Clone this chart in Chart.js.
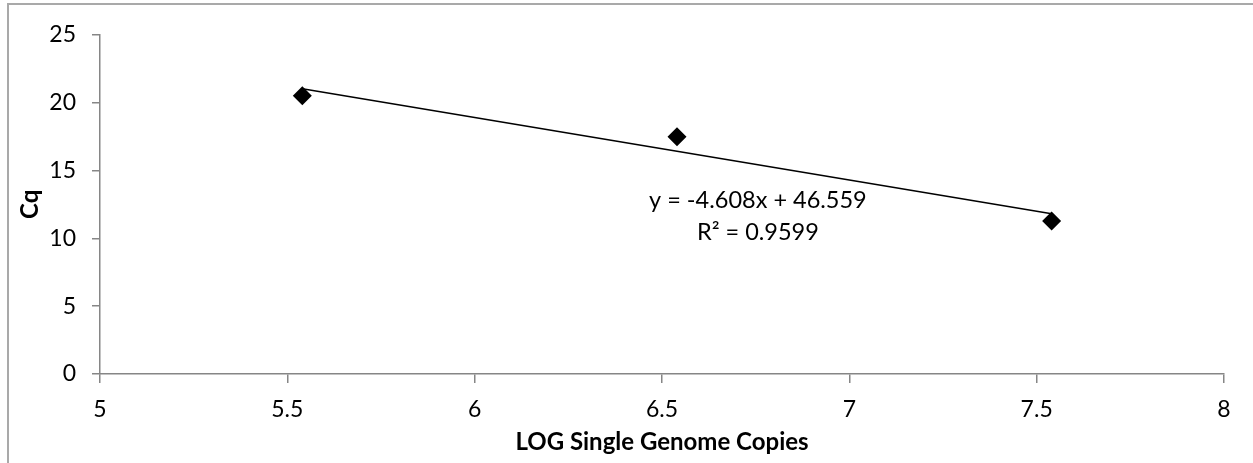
<!DOCTYPE html>
<html>
<head>
<meta charset="utf-8">
<script src="https://cdn.jsdelivr.net/npm/chart.js@4.4.1/dist/chart.umd.min.js"></script>
<style>
  html, body { margin: 0; padding: 0; background: #fff; overflow: hidden; }
  #marco {
    position: absolute; left: 7px; top: 3px;
    width: 1246px; height: 460px;
    border-left: 2px solid #a9a9a9; border-top: 2px solid #a9a9a9;
  }
  #grafico { display: block; }
</style>
</head>
<body>
<div id="marco"><canvas id="grafico" width="1244" height="458"></canvas></div>
<script>
// Curva estándar: LOG copias vs Cq
const logCopias = [5.54, 6.54, 7.54];
const valoresCq = [20.5, 17.49, 11.28];

// Ajuste lineal mostrado en la etiqueta
const pendiente = -4.608;
const intercepto = 46.559;
const r2 = 0.9599;
const etiquetaEcuacion = ['y = -4.608x + 46.559', 'R\u00B2 = 0.9599'];

const ticksX = [5, 5.5, 6, 6.5, 7, 7.5, 8];
const ticksY = [0, 5, 10, 15, 20, 25];

const fuente = 'Lato, "Open Sans", sans-serif';
const grisEje = '#868686';

const puntos = logCopias.map((x, i) => ({ x: x, y: valoresCq[i] }));
const xMin = Math.min(...logCopias), xMax = Math.max(...logCopias);
const tendencia = [xMin, xMax].map(x => ({ x: x, y: pendiente * x + intercepto }));

// texto de la ecuación, anclado en coordenadas de datos
const ecuacionPlugin = {
    id: 'ecuacion',
    afterDatasetsDraw(chart) {
        const { ctx, scales } = chart;
        const cx = scales.x.getPixelForValue(6.756);
        const cy = scales.y.getPixelForValue(12.8);
        ctx.save();
        ctx.fillStyle = '#000';
        ctx.font = '23.5px ' + fuente;
        ctx.textAlign = 'center';
        ctx.textBaseline = 'middle';
        ctx.fillText(etiquetaEcuacion[0], cx, cy);
        ctx.fillText(etiquetaEcuacion[1], cx, cy + 32);
        ctx.restore();
    }
};

new Chart(document.getElementById('grafico'), {
    type: 'scatter',
    data: {
        datasets: [
            {
                label: 'Cq',
                data: puntos,
                pointStyle: 'rectRot',
                pointRadius: 9.5,
                pointHoverRadius: 9.5,
                backgroundColor: '#000',
                borderColor: '#000',
                borderWidth: 0,
                order: 1
            },
            {
                label: 'Lineal',
                type: 'line',
                data: tendencia,
                borderColor: '#000',
                borderWidth: 1.5,
                pointRadius: 0,
                fill: false,
                order: 2
            }
        ]
    },
    options: {
        responsive: false,
        animation: false,
        events: [],
        layout: { padding: { left: 0, top: 25, right: 29, bottom: 0 } },
        plugins: { legend: { display: false }, tooltip: { enabled: false } },
        scales: {
            x: {
                type: 'linear',
                min: 5, max: 8,
                afterBuildTicks: s => { s.ticks = ticksX.map(v => ({ value: v })); },
                afterFit: s => { s.height = 89; },
                border: { display: true, color: grisEje, width: 1.5 },
                grid: { drawOnChartArea: false, drawTicks: true, tickLength: 9, color: grisEje, lineWidth: 1.5 },
                ticks: {
                    color: '#000', font: { family: fuente, size: 23 }, padding: 13,
                    maxRotation: 0, autoSkip: false,
                    callback: v => String(v)
                },
                title: {
                    display: true,
                    text: 'LOG Single Genome Copies',
                    color: '#000',
                    font: { family: fuente, size: 24, weight: 'bold' },
                    padding: { top: 0, bottom: 6 }
                }
            },
            y: {
                type: 'linear',
                min: 0, max: 25,
                afterBuildTicks: s => { s.ticks = ticksY.map(v => ({ value: v })); },
                afterFit: s => { s.width = 91; },
                border: { display: true, color: grisEje, width: 1.5 },
                grid: { drawOnChartArea: false, drawTicks: true, tickLength: 8, color: grisEje, lineWidth: 1.5 },
                ticks: { color: '#000', font: { family: fuente, size: 23 }, padding: 16, callback: v => String(v) },
                title: {
                    display: true,
                    text: 'Cq',
                    color: '#000',
                    font: { family: fuente, size: 24, weight: 'bold' },
                    padding: { top: 7, bottom: 0 }
                }
            }
        }
    },
    plugins: [ecuacionPlugin]
});
</script>
</body>
</html>
